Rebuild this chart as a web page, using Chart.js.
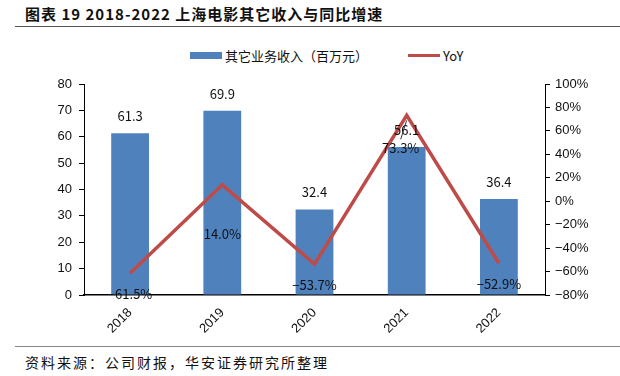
<!DOCTYPE html>
<html lang="zh">
<head>
  <meta charset="UTF-8">
  <title>上海电影其它收入与同比增速</title>
  <script src="https://cdn.jsdelivr.net/npm/chart.js"></script>
  <style>
    body {
      margin: 0;
      width: 620px;
      height: 376px;
      position: relative;
      background: #fff;
      font-family: "Noto Sans CJK SC", sans-serif;
      overflow: hidden;
    }

    #title {
      position: absolute;
      left: 25px;
      top: 3px;
      font-size: 15px;
      font-weight: bold;
      letter-spacing: 1px;
      color: #111;
      white-space: nowrap;
    }

    #titleLine {
      position: absolute;
      left: 15px;
      right: 0;
      top: 26px;
      border-top: 1.5px solid #555;
    }

    #legend {
      position: absolute;
      top: 46px;
      left: 190px;
      font-size: 13px;
      color: #111;
      display: flex;
      align-items: center;
      white-space: nowrap;
    }

    .swatch {
      display: inline-block;
      width: 32px;
      margin-right: 3px;
    }

    #chartBox {
      position: absolute;
      left: 0;
      top: 40px;
      width: 620px;
      height: 300px;
    }

    #srcLine {
      position: absolute;
      left: 15px;
      right: 0;
      top: 346px;
      border-top: 1.5px solid #888;
    }

    #source {
      position: absolute;
      left: 25px;
      top: 352px;
      font-size: 14px;
      letter-spacing: 2px;
      color: #111;
      white-space: nowrap;
    }
  </style>
</head>

<body>
  <div id="title">图表 19 2018-2022 上海电影其它收入与同比增速</div>
  <div id="titleLine"></div>
  <div id="legend">
    <span class="swatch" style="height:7px;background:#4F81BD"></span>其它业务收入（百万元）
    <span class="swatch" style="height:3px;background:#BE4B48;margin-left:40px"></span>YoY
  </div>
  <div id="chartBox"><canvas id="chart"></canvas></div>
  <div id="srcLine"></div>
  <div id="source">资料来源：公司财报，华安证券研究所整理</div>

  <script>
    const years = ["2018", "2019", "2020", "2021", "2022"];
    const revenue = [61.3, 69.9, 32.4, 56.1, 36.4];
    const yoy = [-61.5, 14.0, -53.7, 73.3, -52.9];
    // label offsets below each YoY point (px)
    const yoyLabelDy = [21, 49, 21, 33, 21];
    const yoyLabelDx = [0, 0, 0, -6, 0];

    const labelPlugin = {
      id: "valueLabels",
      afterDatasetsDraw(chart) {
        const ctx = chart.ctx;
        ctx.save();
        ctx.font = "13px 'Noto Sans CJK SC', sans-serif";
        ctx.fillStyle = "#111";
        ctx.textAlign = "center";
        ctx.textBaseline = "middle";
        chart.getDatasetMeta(0).data.forEach((bar, i) => {
          ctx.fillText(revenue[i].toFixed(1), bar.x, bar.y - 17);
        });
        chart.getDatasetMeta(1).data.forEach((pt, i) => {
          const x = pt.x + yoyLabelDx[i];
          const y = pt.y + yoyLabelDy[i];
          ctx.fillText(yoy[i].toFixed(1).replace("-", "−") + "%", x, y);
          if (i === 3) {
            ctx.strokeStyle = "#333";
            ctx.lineWidth = 1;
            ctx.beginPath();
            ctx.moveTo(x, y - 9);
            ctx.lineTo(pt.x, pt.y + 5);
            ctx.stroke();
          }
        });
        ctx.restore();
      }
    };

    Chart.defaults.font.family = "'Liberation Sans', Arial, sans-serif";
    Chart.defaults.font.size = 13;
    Chart.defaults.color = "#111";

    new Chart(document.getElementById("chart"), {
      type: "bar",
      data: {
        labels: years,
        datasets: [{
          label: "其它业务收入（百万元）",
          data: revenue,
          backgroundColor: "#4F81BD",
          barPercentage: 0.41,
          categoryPercentage: 1,
          yAxisID: "y",
          order: 2
        }, {
          type: "line",
          label: "YoY",
          data: yoy,
          borderColor: "#BE4B48",
          borderWidth: 3.5,
          pointRadius: 0,
          tension: 0,
          yAxisID: "y1",
          order: 1
        }]
      },
      options: {
        responsive: true,
        maintainAspectRatio: false,
        animation: false,
        layout: { padding: { top: 44, left: 0, right: 0, bottom: 0 } },
        plugins: {
          legend: { display: false },
          tooltip: { enabled: false }
        },
        scales: {
          x: {
            grid: { display: false },
            border: { display: true, color: "#000", width: 1.5 },
            ticks: { minRotation: 45, maxRotation: 45, padding: 2 },
            afterFit(scale) { scale.height = 45; }
          },
          y: {
            position: "left",
            min: 0,
            max: 80,
            ticks: { stepSize: 10, padding: 7 },
            grid: { drawOnChartArea: false, color: "#000", tickLength: 5 },
            border: { display: true, color: "#000", width: 1 },
            afterFit(scale) { scale.width = 84; }
          },
          y1: {
            position: "right",
            min: -80,
            max: 100,
            ticks: {
              stepSize: 20,
              padding: 5,
              callback: v => (v < 0 ? "−" + Math.abs(v) : v) + "%"
            },
            grid: { drawOnChartArea: false, color: "#000", tickLength: 5 },
            border: { display: true, color: "#000", width: 1 },
            afterFit(scale) { scale.width = 75; }
          }
        }
      },
      plugins: [labelPlugin]
    });
  </script>
</body>
</html>
